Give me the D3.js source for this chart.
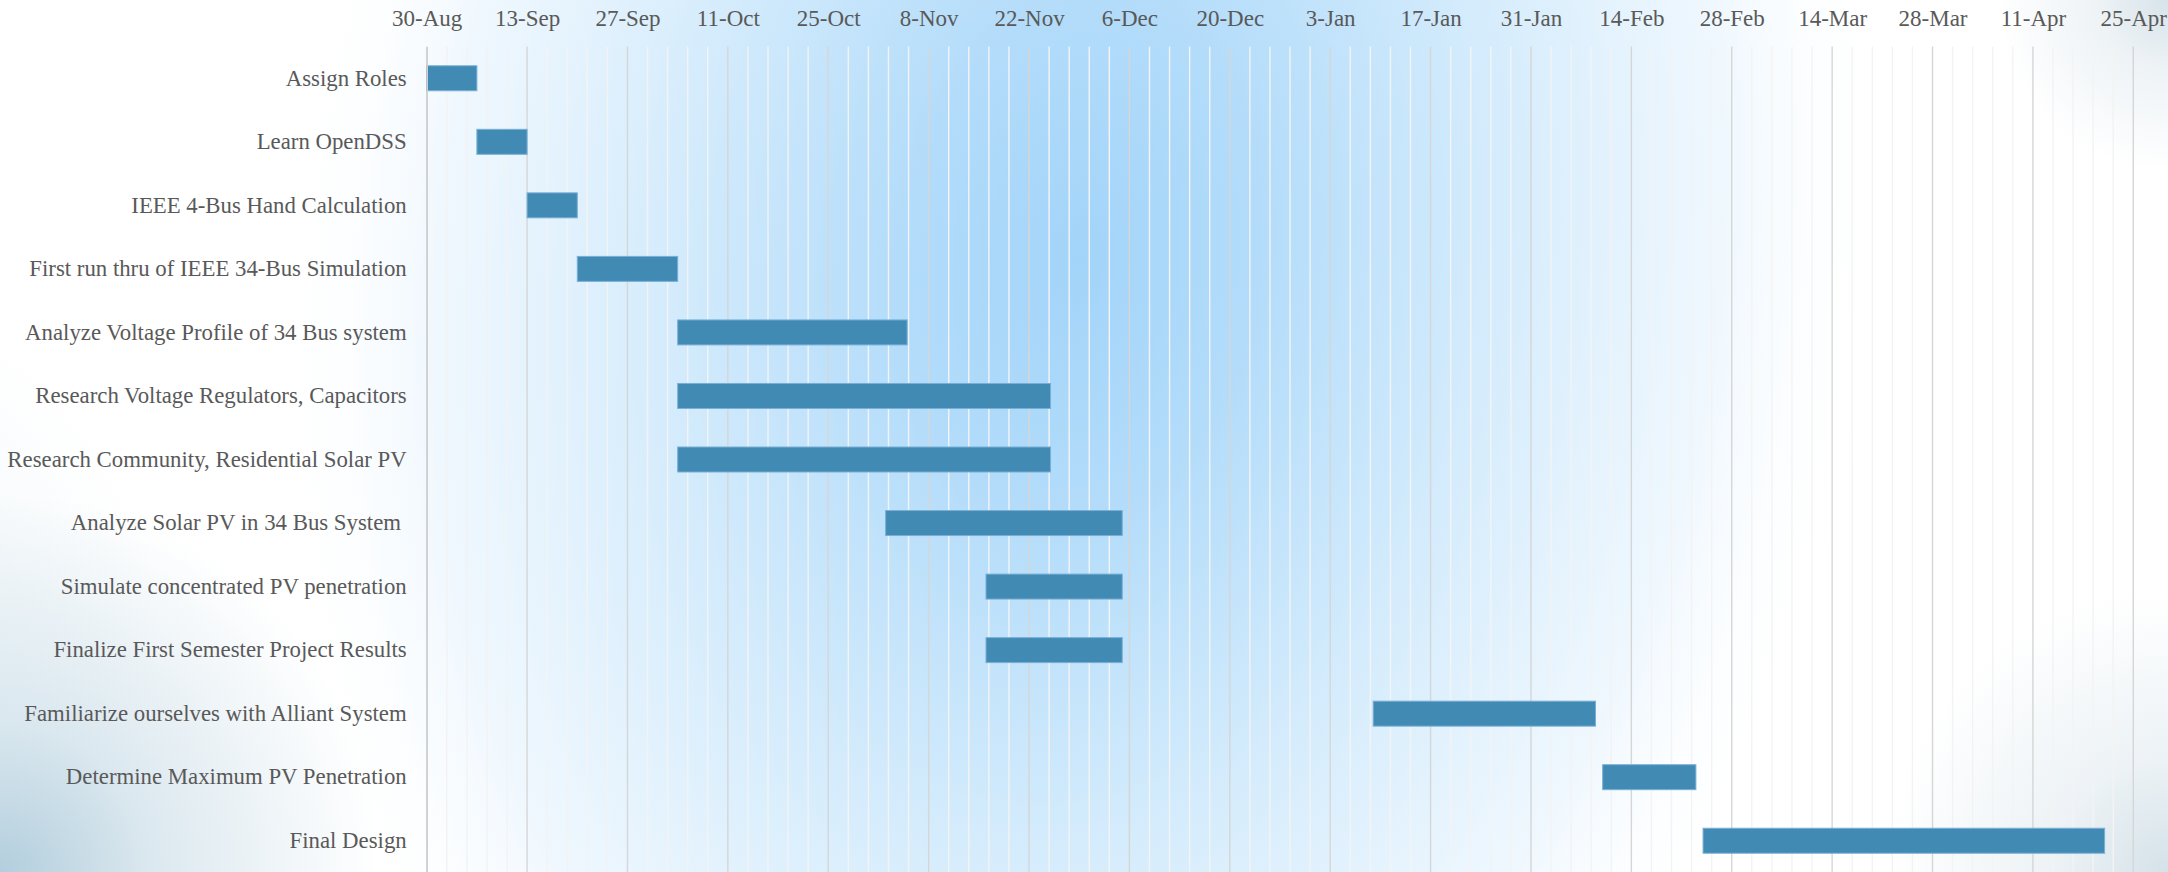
<!DOCTYPE html>
<html>
<head>
<meta charset="utf-8">
<title>Project Schedule</title>
<script src="https://cdn.jsdelivr.net/npm/d3@7"></script>
<style>
  html, body { margin: 0; padding: 0; overflow: hidden; background: #ffffff; }
  svg text { font-family: "Liberation Serif", "Times New Roman", serif; fill: #595959; }
  .task-axis text { white-space: pre; }
</style>
</head>
<body>
<svg id="chart" width="2168" height="872"></svg>
<script>
// Schedule data: task names, start dates and durations in days
const tasks = [
  "Assign Roles",
  "Learn OpenDSS",
  "IEEE 4-Bus Hand Calculation",
  "First run thru of IEEE 34-Bus Simulation",
  "Analyze Voltage Profile of 34 Bus system",
  "Research Voltage Regulators, Capacitors",
  "Research Community, Residential Solar PV",
  "Analyze Solar PV in 34 Bus System ",
  "Simulate concentrated PV penetration",
  "Finalize First Semester Project Results",
  "Familiarize ourselves with Alliant System",
  "Determine Maximum PV Penetration",
  "Final Design"
];
const startDates = [
  "2014-08-30", "2014-09-06", "2014-09-13", "2014-09-20", "2014-10-04",
  "2014-10-04", "2014-10-04", "2014-11-02", "2014-11-16", "2014-11-16",
  "2015-01-09", "2015-02-10", "2015-02-24"
];
const durations = [7, 7, 7, 14, 32, 52, 52, 33, 19, 19, 31, 13, 56];

// Date axis: major ticks every two weeks
const axisStart = "2014-08-30";
const axisEnd = "2015-04-25";
const tickDates = [
  "2014-08-30", "2014-09-13", "2014-09-27", "2014-10-11", "2014-10-25",
  "2014-11-08", "2014-11-22", "2014-12-06", "2014-12-20", "2015-01-03",
  "2015-01-17", "2015-01-31", "2015-02-14", "2015-02-28", "2015-03-14",
  "2015-03-28", "2015-04-11", "2015-04-25"
];
const minorPerMajor = 5;

const W = 2168, H = 872;
const plot = { left: 426.7, right: 2133.3, top: 46.5, bottom: 872.5 };

const parse = d3.utcParse("%Y-%m-%d");
const fmt = d3.utcFormat("%-d-%b");

const svg = d3.select("#chart");
const defs = svg.append("defs");

// ---- background: white slide with a soft blue glow and shaded corners ----
svg.append("rect").attr("width", W).attr("height", H).attr("fill", "#ffffff");

const glow = defs.append("radialGradient")
  .attr("id", "glow").attr("gradientUnits", "userSpaceOnUse")
  .attr("cx", 0).attr("cy", 0).attr("r", 1)
  .attr("gradientTransform", "translate(1080,260) rotate(8) scale(800,1150)");
[[0, "#a2d4f9", 1], [0.22, "#b3dcfa", 1], [0.5, "#d3ebfc", 1], [0.8, "#eef7fe", 0.9], [1, "#ffffff", 0]]
  .forEach(([o, c, a]) => glow.append("stop").attr("offset", o).attr("stop-color", c).attr("stop-opacity", a));
svg.append("rect").attr("width", W).attr("height", H).attr("fill", "url(#glow)");

function corner(id, cx, cy, r, color, op) {
  const g = defs.append("radialGradient")
    .attr("id", id).attr("gradientUnits", "userSpaceOnUse")
    .attr("cx", cx).attr("cy", cy).attr("r", r);
  g.append("stop").attr("offset", 0).attr("stop-color", color).attr("stop-opacity", op);
  g.append("stop").attr("offset", 0.4).attr("stop-color", color).attr("stop-opacity", op * 0.45);
  g.append("stop").attr("offset", 1).attr("stop-color", color).attr("stop-opacity", 0);
  svg.append("rect").attr("width", W).attr("height", H).attr("fill", `url(#${id})`);
}
corner("cornerBL", 0, 872, 380, "#a3c4d6", 0.85);
corner("edgeL", -200, 640, 360, "#cfe2ec", 0.5);
corner("cornerTR", 2168, 0, 170, "#c6d7e1", 0.7);
corner("cornerBR", 2168, 872, 280, "#c3d6e0", 0.7);

// ---- scales ----
const x = d3.scaleUtc()
  .domain([parse(axisStart), parse(axisEnd)])
  .range([plot.left, plot.right]);

const y = d3.scaleBand()
  .domain(tasks)
  .range([plot.top, plot.bottom])
  .paddingInner(0.607)
  .paddingOuter(0.3035);

const majors = tickDates.map(parse);
const minors = [];
for (let i = 0; i < majors.length - 1; i++) {
  const a = +majors[i], b = +majors[i + 1];
  for (let k = 1; k < minorPerMajor; k++) minors.push(new Date(a + (b - a) * k / minorPerMajor));
}

// ---- gridlines ----
svg.append("g").attr("class", "grid-minor")
  .selectAll("line").data(minors).join("line")
  .attr("x1", d => x(d)).attr("x2", d => x(d))
  .attr("y1", plot.top).attr("y2", H)
  .attr("stroke", "#f3f3f3").attr("stroke-width", 1.4);

svg.append("g").attr("class", "grid-major")
  .selectAll("line").data(majors).join("line")
  .attr("x1", d => x(d)).attr("x2", d => x(d))
  .attr("y1", plot.top).attr("y2", H)
  .attr("stroke", "#d6d6d6").attr("stroke-width", 1.4);

// ---- bars ----
const rows = tasks.map((t, i) => {
  const s = parse(startDates[i]);
  return { task: t, start: s, end: d3.utcDay.offset(s, durations[i]) };
});

svg.append("g").attr("class", "bars")
  .selectAll("rect").data(rows).join("rect")
  .attr("x", d => x(d.start))
  .attr("y", d => y(d.task))
  .attr("width", d => x(d.end) - x(d.start))
  .attr("height", y.bandwidth())
  .attr("fill", "#418ab4")
  .attr("stroke", "#78afd7")
  .attr("stroke-width", 1);

// ---- axes ----
const xAxis = svg.append("g")
  .attr("transform", `translate(0,${plot.top})`)
  .call(d3.axisTop(x).tickValues(majors).tickFormat(fmt).tickSize(0).tickPadding(21));
xAxis.select(".domain").remove();
xAxis.selectAll("text").attr("font-size", 23).attr("fill", "#595959")
  .style("font-family", '"Liberation Serif", "Times New Roman", serif');

const yAxis = svg.append("g")
  .attr("class", "task-axis")
  .attr("transform", `translate(${plot.left},0)`)
  .call(d3.axisLeft(y).tickSize(0).tickSizeOuter(0).tickPadding(20));
yAxis.select(".domain").attr("stroke", "#d0d0d0").attr("stroke-width", 1.6);
yAxis.selectAll("text").attr("font-size", 22.8).attr("fill", "#595959")
  .style("font-family", '"Liberation Serif", "Times New Roman", serif');
</script>
</body>
</html>
